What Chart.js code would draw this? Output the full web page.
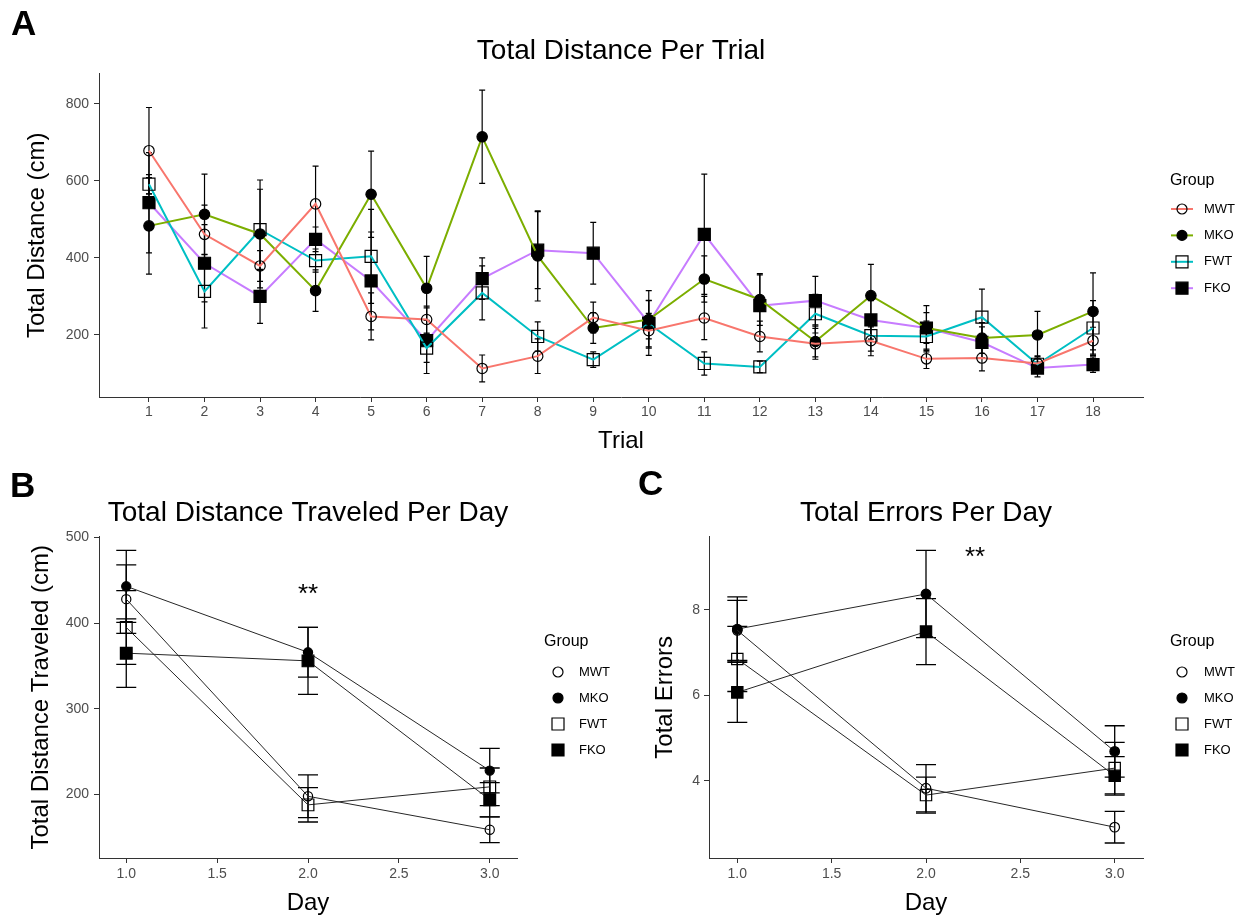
<!DOCTYPE html>
<html>
<head>
<meta charset="utf-8">
<script src="https://cdn.jsdelivr.net/npm/chart.js@4.4.1/dist/chart.umd.min.js"></script>
<style>
  body { margin: 0; background: #fff; width: 1253px; height: 920px; position: relative; overflow: hidden;
         font-family: 'Liberation Sans', Arial, sans-serif; }
  .box { position: absolute; }
  .tag { position: absolute; font-weight: bold; font-size: 35px; line-height: 35px; color: #000; }
</style>
</head>
<body>
<div class="box" style="left:0;top:0"><canvas id="chart-a" width="1253" height="460"></canvas></div>
<div class="box" style="left:0;top:460px"><canvas id="chart-b" width="630" height="460"></canvas></div>
<div class="box" style="left:630px;top:460px"><canvas id="chart-c" width="623" height="460"></canvas></div>
<div class="tag" style="left:11px;top:5px">A</div>
<div class="tag" style="left:10px;top:467px">B</div>
<div class="tag" style="left:638px;top:465px">C</div>
<script>
// ---- panel A: distance per trial
const trials = [1, 2, 3, 4, 5, 6, 7, 8, 9, 10, 11, 12, 13, 14, 15, 16, 17, 18];
const distMWT = [678, 461, 379, 540, 248, 240, 113, 145, 245, 211, 244, 196, 177, 185, 138, 140, 126, 185];
const distMKO = [483, 513, 462, 315, 565, 321, 714, 405, 218, 240, 345, 292, 183, 302, 218, 192, 200, 261];
const distFWT = [591, 313, 473, 393, 404, 166, 309, 196, 136, 229, 126, 117, 255, 198, 196, 246, 124, 218];
const distFKO = [543, 386, 300, 448, 340, 185, 346, 420, 412, 231, 461, 276, 289, 239, 218, 181, 114, 123];
const seMWT = [112, 76, 40, 98, 61, 35, 35, 45, 40, 45, 56, 40, 40, 39, 25, 33, 20, 35];
const seMKO = [125, 104, 140, 54, 112, 83, 121, 117, 40, 50, 60, 67, 40, 81, 40, 40, 61, 100];
const seFWT = [25, 95, 105, 30, 122, 37, 70, 38, 20, 60, 30, 15, 50, 40, 40, 73, 20, 71];
const seFKO = [130, 100, 70, 32, 127, 85, 54, 100, 80, 84, 156, 80, 63, 50, 58, 40, 23, 20];
const distTicks = [200, 400, 600, 800];

// ---- panels B and C: per day
const days = [1, 2, 3];
const dayTicks = [1, 1.5, 2, 2.5, 3];
const dayDistMWT = [428, 198, 159];
const dayDistMKO = [443, 366, 228];
const dayDistFWT = [395, 188, 209];
const dayDistFKO = [365, 356, 194];
const dayDistSeMWT = [40, 25, 15];
const dayDistSeMKO = [42, 29, 26];
const dayDistSeFWT = [43, 20, 22];
const dayDistSeFKO = [40, 39, 20];
const dayDistTicks = [200, 300, 400, 500];

const errMWT = [7.52, 3.83, 2.92];
const errMKO = [7.55, 8.37, 4.69];
const errFWT = [6.85, 3.67, 4.30];
const errFKO = [6.07, 7.49, 4.12];
const errSeMWT = [0.70, 0.55, 0.37];
const errSeMKO = [0.75, 1.02, 0.60];
const errSeFWT = [0.76, 0.42, 0.60];
const errSeFKO = [0.70, 0.77, 0.45];
const errTicks = [4, 6, 8];

const groups = ['MWT', 'MKO', 'FWT', 'FKO'];
const hue = ['#F8766D', '#7CAE00', '#00BFC4', '#C77CFF'];
const shapes = ['circle', 'circle', 'rect', 'rect'];
const filled = [false, true, false, true];

const FONT = "'Liberation Sans', Arial, sans-serif";
const tickGray = '#4d4d4d';
Chart.defaults.font.family = FONT;
Chart.defaults.color = '#000';

const toPts = (xs, ys) => xs.map((x, i) => ({ x: x, y: ys[i] }));

// error bars drawn under the lines/markers
const errorBars = {
  id: 'errorBars',
  beforeDatasetsDraw(chart, args, opts) {
    const ctx = chart.ctx;
    const xs = chart.scales.x, ys = chart.scales.y;
    ctx.save();
    ctx.strokeStyle = '#000';
    ctx.lineWidth = opts.width;
    chart.data.datasets.forEach(ds => {
      ds.data.forEach((p, i) => {
        const e = ds.errors[i];
        const x = xs.getPixelForValue(p.x);
        const y1 = ys.getPixelForValue(p.y + e);
        const y2 = ys.getPixelForValue(p.y - e);
        ctx.beginPath();
        ctx.moveTo(x, y1); ctx.lineTo(x, y2);
        ctx.moveTo(x - opts.cap, y1); ctx.lineTo(x + opts.cap, y1);
        ctx.moveTo(x - opts.cap, y2); ctx.lineTo(x + opts.cap, y2);
        ctx.stroke();
      });
    });
    ctx.restore();
  }
};

function marker(ctx, shape, fill, x, y, r) {
  ctx.beginPath();
  if (shape === 'circle') ctx.arc(x, y, r, 0, Math.PI * 2);
  else ctx.rect(x - r, y - r, 2 * r, 2 * r);
  if (fill) { ctx.fillStyle = '#000'; ctx.fill(); }
  ctx.strokeStyle = '#000';
  ctx.lineWidth = 1.2;
  ctx.stroke();
}

// ggplot style legend on the right
const groupLegend = {
  id: 'groupLegend',
  afterDraw(chart, args, o) {
    const ctx = chart.ctx;
    ctx.save();
    ctx.textBaseline = 'middle';
    ctx.textAlign = 'left';
    ctx.fillStyle = '#000';
    ctx.font = '16px ' + FONT;
    ctx.fillText('Group', o.x, o.titleY);
    ctx.font = '13px ' + FONT;
    chart.data.datasets.forEach((ds, i) => {
      const y = o.itemY + i * o.gap;
      if (o.showLine) {
        ctx.strokeStyle = ds.borderColor;
        ctx.lineWidth = 2;
        ctx.beginPath();
        ctx.moveTo(o.markerX - 11, y); ctx.lineTo(o.markerX + 11, y);
        ctx.stroke();
      }
      marker(ctx, shapes[i], filled[i], o.markerX, y, shapes[i] === 'circle' ? 5 : 6);
      ctx.fillStyle = '#000';
      ctx.fillText(ds.label, o.textX, y);
    });
    ctx.restore();
  }
};

// significance stars
const stars = {
  id: 'stars',
  afterDraw(chart, args, o) {
    if (!o.text) return;
    const ctx = chart.ctx;
    ctx.save();
    ctx.font = '26px ' + FONT;
    ctx.textAlign = 'center';
    ctx.textBaseline = 'alphabetic';
    ctx.fillStyle = '#000';
    ctx.fillText(o.text, chart.scales.x.getPixelForValue(o.x), chart.scales.y.getPixelForValue(o.y) + 13);
    ctx.restore();
  }
};

function makeDatasets(ys, ses, colored, sizes) {
  return groups.map((g, i) => ({
    label: g,
    data: toPts(colored ? trials : days, ys[i]),
    errors: ses[i],
    borderColor: colored ? hue[i] : '#262626',
    borderWidth: colored ? 2 : 1,
    tension: 0,
    fill: false,
    pointStyle: shapes[i],
    pointRadius: shapes[i] === 'circle' ? sizes[0] : sizes[1],
    pointBackgroundColor: filled[i] ? '#000' : 'rgba(0,0,0,0)',
    pointBorderColor: '#000',
    pointBorderWidth: 1.2
  }));
}

function axis(opts) {
  return {
    type: 'linear',
    min: opts.min, max: opts.max,
    afterBuildTicks: s => { s.ticks = opts.ticks.map(v => ({ value: v })); },
    afterFit: s => { if (opts.size) { if (s.isHorizontal()) s.height = opts.size; else s.width = opts.size; } },
    ticks: { color: tickGray, font: { size: 14 }, padding: opts.pad, autoSkip: false, maxRotation: 0,
             callback: opts.fmt },
    grid: { drawOnChartArea: false, tickLength: 5, color: '#333' },
    border: { color: '#333', width: 1 },
    title: { display: true, text: opts.title, color: '#000', font: { size: 24 }, padding: opts.titlePad }
  };
}

function baseOptions(cfg) {
  return {
    responsive: false,
    animation: false,
    events: [],
    layout: { padding: { left: 0, top: 0, bottom: 0, right: cfg.right } },
    plugins: {
      legend: { display: false },
      tooltip: { enabled: false },
      title: { display: true, text: cfg.title, color: '#000', fullSize: false,
               font: { size: 28, weight: 'normal' }, padding: cfg.titlePad },
      errorBars: { cap: cfg.cap, width: cfg.ebWidth },
      groupLegend: cfg.legend,
      stars: cfg.stars || {}
    },
    scales: { x: cfg.x, y: cfg.y }
  };
}

const plugins = [errorBars, groupLegend, stars];

new Chart(document.getElementById('chart-a').getContext('2d'), {
  type: 'line',
  data: { datasets: makeDatasets([distMWT, distMKO, distFWT, distFKO], [seMWT, seMKO, seFWT, seFKO], true, [5.2, 8.5]) },
  options: baseOptions({
    title: 'Total Distance Per Trial', titlePad: { top: 34, bottom: 6 }, right: 110,
    cap: 3, ebWidth: 1.2,
    legend: { x: 1170, titleY: 181, itemY: 209, gap: 26.4, markerX: 1182, textX: 1204, showLine: true },
    x: axis({ min: 0.1, max: 18.9, ticks: trials, size: 63, pad: 2, fmt: v => String(v),
              title: 'Trial', titlePad: { top: 0, bottom: 4 } }),
    y: axis({ min: 39, max: 878, ticks: distTicks, size: 99, pad: 5, fmt: v => String(v),
              title: 'Total Distance (cm)', titlePad: { top: 23, bottom: 0 } })
  }),
  plugins: plugins
});

new Chart(document.getElementById('chart-b').getContext('2d'), {
  type: 'line',
  data: { datasets: makeDatasets([dayDistMWT, dayDistMKO, dayDistFWT, dayDistFKO],
                                 [dayDistSeMWT, dayDistSeMKO, dayDistSeFWT, dayDistSeFKO], false, [4.6, 8.3]) },
  options: baseOptions({
    title: 'Total Distance Traveled Per Day', titlePad: { top: 36, bottom: 7 }, right: 113,
    cap: 10, ebWidth: 1.3,
    legend: { x: 544, titleY: 182, itemY: 212, gap: 26, markerX: 558, textX: 579, showLine: false },
    stars: { text: '**', x: 2, y: 440 },
    x: axis({ min: 0.85, max: 3.15, ticks: dayTicks, size: 62, pad: 3, fmt: v => v.toFixed(1),
              title: 'Day', titlePad: { top: 0, bottom: 2 } }),
    y: axis({ min: 126, max: 501, ticks: dayDistTicks, size: 99, pad: 5, fmt: v => String(v),
              title: 'Total Distance Traveled (cm)', titlePad: { top: 27, bottom: 0 } })
  }),
  plugins: plugins
});

new Chart(document.getElementById('chart-c').getContext('2d'), {
  type: 'line',
  data: { datasets: makeDatasets([errMWT, errMKO, errFWT, errFKO],
                                 [errSeMWT, errSeMKO, errSeFWT, errSeFKO], false, [4.8, 8]) },
  options: baseOptions({
    title: 'Total Errors Per Day', titlePad: { top: 36, bottom: 7 }, right: 110,
    cap: 10, ebWidth: 1.3,
    legend: { x: 540, titleY: 182, itemY: 212, gap: 26, markerX: 552, textX: 574, showLine: false },
    stars: { text: '**', x: 2.26, y: 9.36 },
    x: axis({ min: 0.85, max: 3.15, ticks: dayTicks, size: 62, pad: 3, fmt: v => v.toFixed(1),
              title: 'Day', titlePad: { top: 0, bottom: 2 } }),
    y: axis({ min: 2.2, max: 9.71, ticks: errTicks, size: 79, pad: 4, fmt: v => String(v),
              title: 'Total Errors', titlePad: { top: 21, bottom: 0 } })
  }),
  plugins: plugins
});
</script>
</body>
</html>
